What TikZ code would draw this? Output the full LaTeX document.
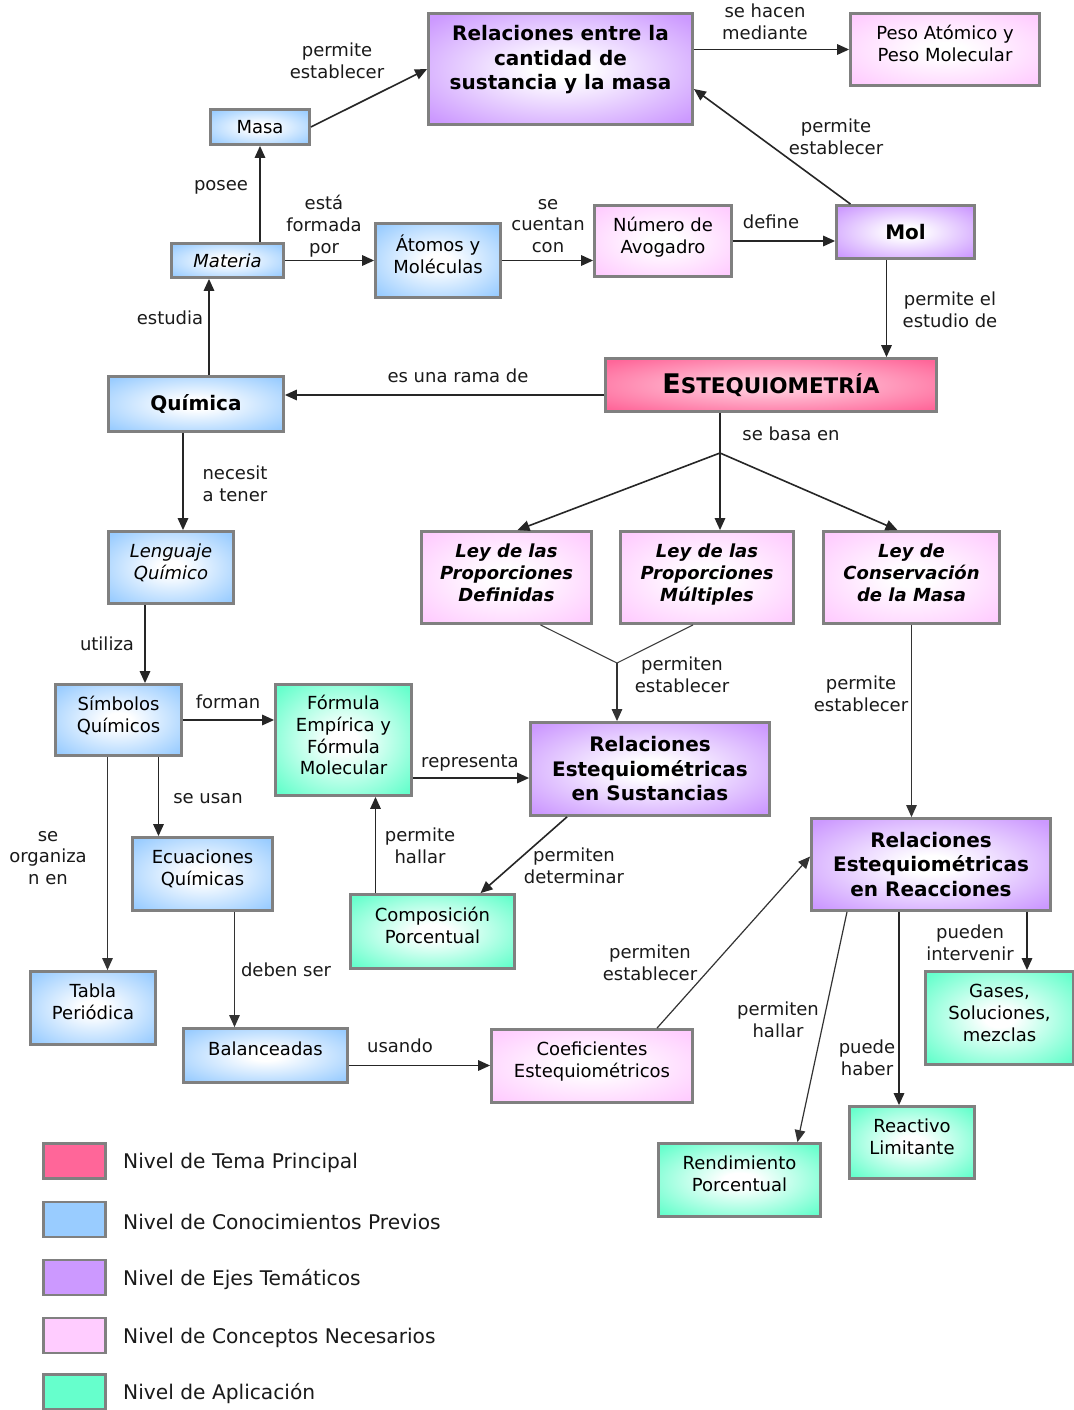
\documentclass[tikz,border=0pt]{standalone}
\usepackage{fontspec}
\setmainfont{DejaVu Sans}
\usetikzlibrary{arrows.meta,calc}
\definecolor{cMain}{HTML}{FF6699}
\definecolor{cBlue}{HTML}{99CCFF}
\definecolor{cPurp}{HTML}{CC99FF}
\definecolor{cPink}{HTML}{FFCCFF}
\definecolor{cGreen}{HTML}{66FFCC}
\definecolor{boxgray}{HTML}{808080}
\definecolor{txt}{HTML}{1A1A1A}
\makeatletter
\pgfdeclareradialshading[tikz@radial@inner,tikz@radial@outer]{glow}{\pgfpoint{0bp}{0bp}}{color(0bp)=(tikz@radial@inner); color(5bp)=(tikz@radial@inner); color(33bp)=(tikz@radial@outer); color(50bp)=(tikz@radial@outer)}
\makeatother
\begin{document}
\begin{tikzpicture}[x=1pt,y=-1pt,
 nf/.style={font=\fontsize{18}{21.8}\selectfont},
 bf/.style={font=\fontsize{20}{24.5}\selectfont\bfseries},
 bif/.style={font=\fontsize{18}{22}\selectfont\bfseries\itshape},
 cbox/.style={draw=boxgray, line width=2.8pt, inner color=white, outer color=#1, shading=glow, align=center, inner sep=0pt, text=black, nf},
 sz/.style 2 args={minimum width=#1pt, minimum height=#2pt},
 lbl/.style={nf, align=center, inner sep=0pt, text=txt},
 arr/.style={draw=black!85, line width=1.6pt, -{Triangle[length=12pt,width=10.5pt]}},
 ln/.style={draw=black!75, line width=1.1pt},
 thinarr/.style={draw=black!80, line width=1.2pt, -{Triangle[length=12pt,width=10.5pt]}},
 legbox/.style={draw=boxgray, line width=2.8pt, fill=#1, minimum width=62pt, minimum height=35pt, inner sep=0pt},
 legtxt/.style={font=\fontsize{20.2}{24}\selectfont, anchor=west, inner sep=0pt, text=txt},
]
\useasboundingbox (0,0) rectangle (1073,1410);
\fill[white] (0,0) rectangle (1073,1410);

% nodes
\node[cbox=cPurp, bf, sz={264}{111}, text depth=23pt] (rel1) at (560.5,69) {Relaciones entre la\\cantidad de\\sustancia y la masa};
\node[cbox=cPink, sz={189}{72}, text depth=12pt] (peso) at (945,49.5) {Peso Atómico y\\Peso Molecular};
\node[cbox=cBlue, sz={99}{35}] (masa) at (260,127) {Masa};
\node[cbox=cBlue, sz={112}{34}] (materia) at (227.5,260.5) {\itshape Materia};
\node[cbox=cBlue, sz={125}{74}, text depth=12pt] (atomos) at (438,260.5) {Átomos y\\Moléculas};
\node[cbox=cPink, sz={137}{71}, text depth=12pt] (numero) at (663,241) {Número de\\Avogadro};
\node[cbox=cPurp, bf, sz={138}{53}] (mol) at (905.5,232) {Mol};
\node[cbox=cMain, inner color=cMain!35!white, shading=glow, font=\bfseries, sz={331}{53}] (est) at (771,385) {{\fontsize{27}{30}\selectfont E}{\fontsize{21.5}{30}\selectfont STEQUIOMETRÍA}};
\node[cbox=cBlue, bf, sz={175}{55}] (quimica) at (196,404) {Química};
\node[cbox=cBlue, sz={125}{72}, text depth=12pt] (lenguaje) at (171,567.5) {\itshape Lenguaje\\\itshape Químico};
\node[cbox=cPink, bif, sz={170}{92}, text depth=10pt] (ley1) at (506.5,577.5) {Ley de las\\Proporciones\\Definidas};
\node[cbox=cPink, bif, sz={173}{92}, text depth=10pt] (ley2) at (707,577.5) {Ley de las\\Proporciones\\Múltiples};
\node[cbox=cPink, bif, sz={176}{92}, text depth=10pt] (ley3) at (911.5,577.5) {Ley de\\Conservación\\de la Masa};
\node[cbox=cBlue, sz={126}{71}, text depth=12pt] (simbolos) at (118.5,720) {Símbolos\\Químicos};
\node[cbox=cGreen, sz={136}{111}, text depth=10pt] (formula) at (343.5,740) {Fórmula\\Empírica y\\Fórmula\\Molecular};
\node[cbox=cPurp, bf, sz={239}{93}] (relsust) at (650,769) {Relaciones\\Estequiométricas\\en Sustancias};
\node[cbox=cBlue, sz={140}{73}, text depth=12pt] (ecuaciones) at (202.5,874) {Ecuaciones\\Químicas};
\node[cbox=cGreen, sz={164}{74}, text depth=12pt] (composicion) at (432.5,931.5) {Composición\\Porcentual};
\node[cbox=cPurp, bf, sz={239}{92}] (relreac) at (931,864.5) {Relaciones\\Estequiométricas\\en Reacciones};
\node[cbox=cBlue, sz={125}{73}, text depth=12pt] (tabla) at (93,1008) {Tabla\\Periódica};
\node[cbox=cBlue, sz={164}{54}, text depth=14pt] (balanceadas) at (265.5,1055.5) {Balanceadas};
\node[cbox=cPink, sz={201}{73}, text depth=12pt] (coef) at (592,1066) {Coeficientes\\Estequiométricos};
\node[cbox=cGreen, sz={148}{93}, text depth=10pt] (gases) at (999.5,1018) {Gases,\\Soluciones,\\mezclas};
\node[cbox=cGreen, sz={125}{72}, text depth=12pt] (reactivo) at (912,1142.5) {Reactivo\\Limitante};
\node[cbox=cGreen, sz={162}{73}, text depth=12pt] (rend) at (739.5,1180) {Rendimiento\\Porcentual};

% connectors
\draw[arr] (masa.east) -- (rel1.west);
\draw[arr] (materia.north -| masa.south) -- (masa.south);
\draw[arr] (materia.east) -- (materia.east -| atomos.west);
\draw[arr] (atomos.east) -- (atomos.east -| numero.west);
\draw[arr] (numero.east) -- (numero.east -| mol.west);
\draw[arr] ($(mol.north)+(-55,0)$) -- ($(rel1.east)+(0,20)$);
\draw[arr] (rel1.east |- peso.west) -- (peso.west);
\coordinate (m1) at ($(mol.south)+(-19,0)$);
\draw[arr] (m1) -- (m1 |- est.north);
\coordinate (e1) at ($(est.west)+(0,10)$);
\draw[arr] (e1) -- (e1 -| quimica.east);
\coordinate (q1) at ($(quimica.north)+(13,0)$);
\draw[arr] (q1) -- (q1 |- materia.south);
\coordinate (q2) at ($(quimica.south)+(-13,0)$);
\draw[arr] (q2) -- (q2 |- lenguaje.north);
\coordinate (lg1) at ($(lenguaje.south)+(-26,0)$);
\draw[arr] (lg1) -- (lg1 |- simbolos.north);
\coordinate (j1) at (720,453);
\draw[arr, -] (j1 |- est.south) -- (j1);
\draw[arr] (j1) -- ($(ley1.north)+(11,0)$);
\draw[arr] (j1) -- (j1 |- ley2.north);
\draw[arr] (j1) -- ($(ley3.north)+(-14,0)$);
\coordinate (j2) at (617,663);
\draw[ln] ($(ley1.south)+(34,0)$) -- (j2);
\draw[ln] ($(ley2.south)+(-14,0)$) -- (j2);
\draw[thinarr] (j2) -- (j2 |- relsust.north);
\draw[thinarr] (ley3.south) -- (ley3.south |- relreac.north);
\draw[arr] (simbolos.east) -- (simbolos.east -| formula.west);
\coordinate (f1) at ($(formula.east)+(0,38)$);
\draw[arr] (f1) -- (f1 -| relsust.west);
\coordinate (s1) at ($(simbolos.south)+(40,0)$);
\draw[arr] (s1) -- (s1 |- ecuaciones.north);
\coordinate (s2) at ($(simbolos.south)+(-11,0)$);
\draw[thinarr] (s2) -- (s2 |- tabla.north);
\coordinate (c1) at ($(composicion.north)+(-57,0)$);
\draw[arr] (c1) -- (c1 |- formula.south);
\draw[arr] ($(relsust.south)+(-83,0)$) -- ($(composicion.north)+(48,0)$);
\coordinate (ec1) at ($(ecuaciones.south)+(32,0)$);
\draw[thinarr] (ec1) -- (ec1 |- balanceadas.north);
\coordinate (b1) at ($(balanceadas.east)+(0,10)$);
\draw[arr] (b1) -- (b1 -| coef.west);
\draw[thinarr] ($(coef.north)+(65,0)$) -- ($(relreac.west)+(0,-8)$);
\coordinate (r1) at ($(relreac.south)+(96,0)$);
\draw[arr] (r1) -- (r1 |- gases.north);
\coordinate (r2) at ($(relreac.south)+(-32,0)$);
\draw[arr] (r2) -- (r2 |- reactivo.north);
\draw[thinarr] ($(relreac.south)+(-84,0)$) -- ($(rend.north)+(58,0)$);

% connector labels
\node[lbl] (l1) at (337,61) {permite\\establecer};
\node[lbl] (l2) at (765,22) {se hacen\\mediante};
\node[lbl] (l3) at (836,137) {permite\\establecer};
\node[lbl] (l4) at (221,187) {posee};
\node[lbl] (l5) at (324,226) {está\\formada\\por};
\node[lbl] (l6) at (548,226) {se\\cuentan\\con};
\node[lbl] (l7) at (771,222) {define};
\node[lbl] (l8) at (950,310) {permite el\\estudio de};
\node[lbl] (l9) at (458,376) {es una rama de};
\node[lbl] (l10) at (170,318) {estudia};
\node[lbl] (l11) at (235,484) {necesit\\a tener};
\node[lbl] (l12) at (791,434) {se basa en};
\node[lbl] (l13) at (107,644) {utiliza};
\node[lbl] (l14) at (682,675) {permiten\\establecer};
\node[lbl] (l15) at (861,694) {permite\\establecer};
\node[lbl] (l16) at (228,702) {forman};
\node[lbl] (l17) at (470,763) {representa};
\node[lbl] (l18) at (208,799) {se usan};
\node[lbl] (l19) at (48,858) {se\\organiza\\n en};
\node[lbl] (l20) at (420,846) {permite\\hallar};
\node[lbl] (l21) at (574,866) {permiten\\determinar};
\node[lbl] (l22) at (286,970) {deben ser};
\node[lbl] (l23) at (400,1046) {usando};
\node[lbl] (l24) at (650,963) {permiten\\establecer};
\node[lbl] (l25) at (970,943) {pueden\\intervenir};
\node[lbl] (l26) at (867,1058) {puede\\haber};
\node[lbl] (l27) at (778,1020) {permiten\\hallar};

% legend
\node[legbox=cMain] (k1) at (74.5,1161) {};
\node[legbox=cBlue] (k2) at (74.5,1219.5) {};
\node[legbox=cPurp] (k3) at (74.5,1277.5) {};
\node[legbox=cPink] (k4) at (74.5,1335.5) {};
\node[legbox=cGreen] (k5) at (74.5,1392) {};
\node[legtxt] (t1) at (123,1163) {Nivel de Tema Principal};
\node[legtxt] (t2) at (123,1221.5) {Nivel de Conocimientos Previos};
\node[legtxt] (t3) at (123,1279.5) {Nivel de Ejes Temáticos};
\node[legtxt] (t4) at (123,1337.5) {Nivel de Conceptos Necesarios};
\node[legtxt] (t5) at (123,1394) {Nivel de Aplicación};
\end{tikzpicture}
\end{document}
